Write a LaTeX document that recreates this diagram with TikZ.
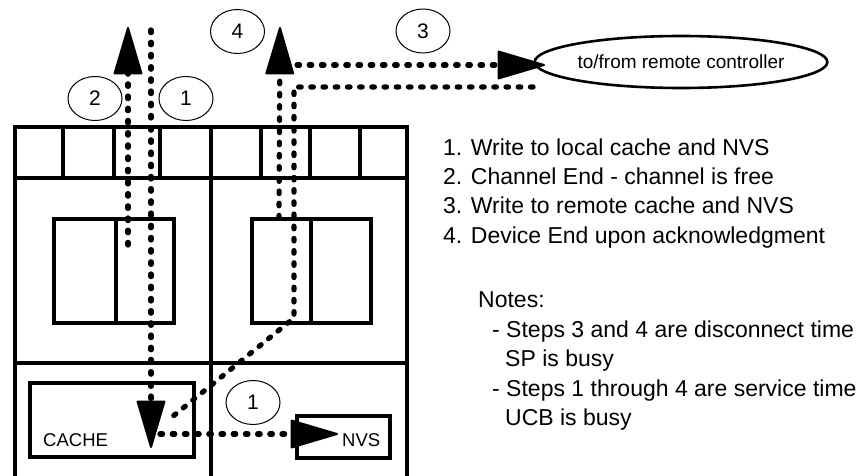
\documentclass[tikz,border=0pt]{standalone}
\usepackage{fontspec}
\setmainfont{Liberation Sans}
\usetikzlibrary{arrows.meta,shapes.geometric}
\begin{document}
\begin{tikzpicture}[x=1pt,y=-1pt,
  frame/.style={line width=3.4pt},
  inbox/.style={line width=3.8pt},
  dotline/.style={line width=5.2pt, line cap=round, dash pattern=on 2.6pt off 9.6pt},
  bigtip/.style={-{Triangle[length=50pt,width=29pt,line width=2pt,round]}},
  numell/.style={draw, ellipse, line width=1pt, minimum width=54pt, minimum height=44pt, inner sep=0pt, font=\fontsize{21}{21}\selectfont},
  lst/.style={anchor=base west, inner sep=0pt, font=\fontsize{23}{23}\selectfont}]
\useasboundingbox (0,0) rectangle (862,476);
\clip (0,0) rectangle (862,476);
% frame
\draw[frame] (15,127) rectangle (407,478);
\draw[frame] (15,178) -- (407,178);
\draw[frame] (15,363) -- (407,363);
\draw[frame] (211,127) -- (211,478);
\foreach \xx in {63,114,160,261,310,360} \draw[frame] (\xx,127) -- (\xx,178);
% inner boxes
\draw[inbox] (54,219) rectangle (174,323);
\draw[inbox] (116,219) -- (116,323);
\draw[inbox] (252,219) rectangle (371,323);
\draw[inbox] (311,219) -- (311,323);
\node[draw, inbox, minimum width=164pt, minimum height=74pt, inner sep=0pt] (cache) at (112,420) {};
\node[anchor=base west, inner sep=0pt, font=\fontsize{18.5}{18.5}\selectfont] (cachet) at (43,446) {CACHE};
\node[draw, inbox, minimum width=93pt, minimum height=42pt, inner sep=0pt] (nvs) at (343.5,437) {};
\node[anchor=base west, inner sep=0pt, font=\fontsize{18.5}{18.5}\selectfont] (nvst) at (342,446) {NVS};
% ellipses
\node[numell] (e2) at (95,98.5) {2};
\node[numell] (e1) at (186,98.5) {1};
\node[numell] (e4) at (237.5,31.5) {4};
\node[numell] (e3) at (423,31) {3};
\node[numell] (e1b) at (253,402.5) {1};
\node[draw, ellipse, line width=2.6pt, minimum width=252pt, minimum height=52pt, inner sep=0pt, font=\fontsize{19}{19}\selectfont] (remote) at (681,62) {to/from remote controller};
% connector anchors
\coordinate (a2s) at (128,245);
\coordinate (a2t) at (128,27);
\coordinate (a1s) at (151,30);
\coordinate (a1t) at (151,448);
\coordinate (a4s) at (279,218);
\coordinate (a4t) at (280,27);
\coordinate (u0) at (297,65);
\coordinate (u1) at (545,65);
\coordinate (l0) at (533,87);
\coordinate (l1) at (294,87);
\coordinate (l2) at (294,318);
\coordinate (l3) at (172,417);
\coordinate (h0) at (160,434);
\coordinate (h1) at (338,434);
% arrows
\draw[dotline, bigtip] (a2s) -- (a2t);
\draw[dotline, bigtip] (a1s) -- (a1t);
\draw[dotline, bigtip] (a4s) -- (a4t);
\draw[dotline, bigtip] (u0) -- (u1);
\draw[dotline, bigtip] (h0) -- (h1);
\draw[dotline] (l0) -- (l1) -- (l2) -- (l3);
% text
\node[lst] (t1) at (443,155) {1. Write to local cache and NVS};
\node[lst] (t2) at (443,184.5) {2. Channel End - channel is free};
\node[lst] (t3) at (443,213.5) {3. Write to remote cache and NVS};
\node[lst] (t4) at (443,243) {4. Device End upon acknowledgment};
\node[lst] (n0) at (478,307) {Notes:};
\node[lst] (n1) at (492,337) {- Steps 3 and 4 are disconnect time};
\node[lst] (n2) at (505,366.5) {SP is busy};
\node[lst] (n3) at (492,396) {- Steps 1 through 4 are service time};
\node[lst] (n4) at (505,425.5) {UCB is busy};
\end{tikzpicture}
\end{document}
